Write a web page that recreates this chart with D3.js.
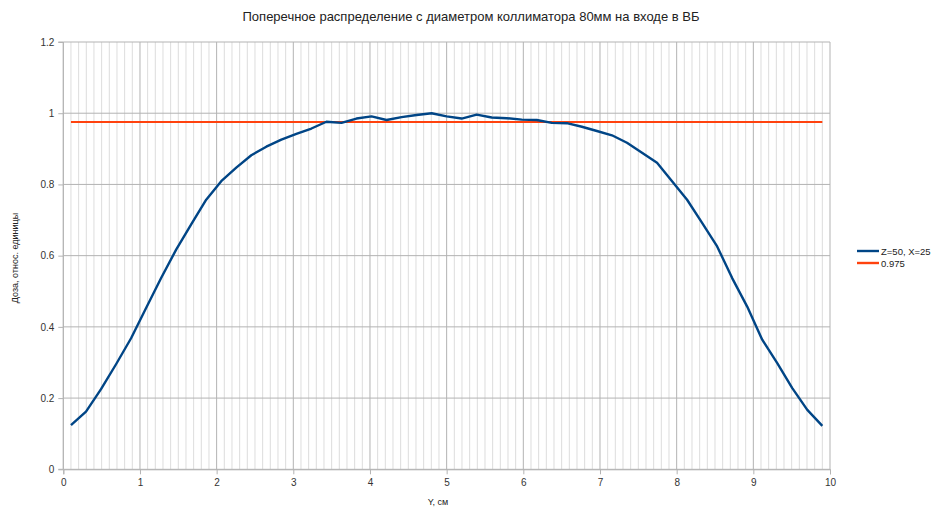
<!DOCTYPE html>
<html>
<head>
<meta charset="utf-8">
<script src="https://cdn.jsdelivr.net/npm/d3@7"></script>
<style>
  html, body { margin: 0; padding: 0; background: #fff; }
  svg { display: block; font-family: "Liberation Sans", Arial, sans-serif; }
</style>
</head>
<body>
<svg id="chart" width="936" height="507"></svg>
<script>
// Transverse dose profile, Y position (cm)
const positions = [0.1, 0.296, 0.492, 0.688, 0.884, 1.08, 1.276, 1.472, 1.668, 1.864,
  2.06, 2.256, 2.452, 2.648, 2.844, 3.04, 3.236, 3.432, 3.628, 3.824,
  4.02, 4.216, 4.412, 4.608, 4.804, 5.0, 5.196, 5.392, 5.588, 5.784,
  5.98, 6.176, 6.372, 6.568, 6.764, 6.96, 7.156, 7.352, 7.548, 7.744,
  7.94, 8.136, 8.332, 8.528, 8.724, 8.92, 9.116, 9.312, 9.508, 9.704, 9.9];

// Relative dose at Z=50, X=25
const dose = [0.124, 0.162, 0.225, 0.295, 0.368, 0.453, 0.537, 0.617, 0.688, 0.757,
  0.809, 0.847, 0.882, 0.906, 0.926, 0.942, 0.957, 0.976, 0.973, 0.985,
  0.991, 0.981, 0.989, 0.995, 1.000, 0.991, 0.985, 0.996, 0.988, 0.986,
  0.982, 0.981, 0.973, 0.972, 0.962, 0.950, 0.938, 0.917, 0.889, 0.861,
  0.809, 0.757, 0.692, 0.626, 0.537, 0.457, 0.364, 0.298, 0.228, 0.167, 0.122];

// Reference level
const refLevel = 0.975;
const refRange = [0.1, 9.9];

const seriesNames = ["Z=50, X=25", "0.975"];
const seriesColors = ["#004586", "#ff420e"];

const xTicks = [0, 1, 2, 3, 4, 5, 6, 7, 8, 9, 10];
const yTicks = [0, 0.2, 0.4, 0.6, 0.8, 1, 1.2];

const titleText = "Поперечное распределение с диаметром коллиматора 80мм на входе в ВБ";
const xTitle = "Y, см";
const yTitle = "Доза, относ. единицы";

const svg = d3.select("#chart");
const plot = { left: 63.3, right: 830, top: 42, bottom: 469.3 };

const x = d3.scaleLinear().domain([0, 10]).range([plot.left, plot.right]);
const y = d3.scaleLinear().domain([0, 1.2]).range([plot.bottom, plot.top]);

// Minor vertical grid (every 0.1)
const minor = d3.range(0, 101).map(i => i / 10).filter(v => Math.abs(v - Math.round(v)) > 1e-9);
svg.append("g")
  .selectAll("line").data(minor).join("line")
  .attr("x1", d => x(d)).attr("x2", d => x(d))
  .attr("y1", plot.top).attr("y2", plot.bottom)
  .attr("stroke", "#dddddd").attr("stroke-width", 1);

// Major vertical grid
svg.append("g")
  .selectAll("line").data(xTicks).join("line")
  .attr("x1", d => x(d)).attr("x2", d => x(d))
  .attr("y1", plot.top).attr("y2", plot.bottom)
  .attr("stroke", "#b3b3b3").attr("stroke-width", 1);

// Major horizontal grid
svg.append("g")
  .selectAll("line").data(yTicks).join("line")
  .attr("x1", plot.left).attr("x2", plot.right)
  .attr("y1", d => y(d)).attr("y2", d => y(d))
  .attr("stroke", "#b3b3b3").attr("stroke-width", 1);

// Axes
const xAxis = d3.axisBottom(x).tickValues(xTicks).tickFormat(d3.format("d")).tickSize(5).tickPadding(5);
const yAxis = d3.axisLeft(y).tickValues(yTicks).tickFormat(d => d3.format("")(d)).tickSize(5).tickPadding(4);

const gx = svg.append("g").attr("transform", `translate(0,${plot.bottom})`).call(xAxis);
const gy = svg.append("g").attr("transform", `translate(${plot.left},0)`).call(yAxis);
[gx, gy].forEach(g => {
  g.select(".domain").attr("stroke", "#b3b3b3");
  g.selectAll(".tick line").attr("stroke", "#b3b3b3");
  g.selectAll(".tick text").attr("fill", "#333").style("font-size", "10px")
    .style("font-family", "'Liberation Sans', Arial, sans-serif");
});
gy.select(".domain").attr("d", `M-5,${plot.top}H0V${plot.bottom}H-5`);

// Reference line
svg.append("line")
  .attr("x1", x(refRange[0])).attr("x2", x(refRange[1]))
  .attr("y1", y(refLevel)).attr("y2", y(refLevel))
  .attr("stroke", seriesColors[1]).attr("stroke-width", 2);

// Dose profile
const line = d3.line().x((d, i) => x(positions[i])).y(d => y(d));
svg.append("path")
  .datum(dose)
  .attr("d", line)
  .attr("fill", "none")
  .attr("stroke", seriesColors[0])
  .attr("stroke-width", 2.4)
  .attr("stroke-linejoin", "round");

// Title
svg.append("text")
  .attr("x", 471).attr("y", 21)
  .attr("text-anchor", "middle")
  .attr("fill", "#222")
  .style("font-size", "13px")
  .text(titleText);

// Axis titles
svg.append("text")
  .attr("x", 438).attr("y", 505)
  .attr("text-anchor", "middle")
  .attr("fill", "#222")
  .style("font-size", "9px")
  .text(xTitle);

svg.append("text")
  .attr("transform", "translate(18,258) rotate(-90)")
  .attr("text-anchor", "middle")
  .attr("fill", "#222")
  .style("font-size", "9px")
  .text(yTitle);

// Legend
const legend = svg.append("g").attr("transform", "translate(857,251)");
seriesNames.forEach((name, i) => {
  const g = legend.append("g").attr("transform", `translate(0,${i * 12})`);
  g.append("line").attr("x1", 0).attr("x2", 22).attr("y1", 0).attr("y2", 0)
    .attr("stroke", seriesColors[i]).attr("stroke-width", 2.4);
  g.append("text").attr("x", 24).attr("y", 3.5)
    .attr("fill", "#222").style("font-size", "9.5px").text(name);
});
</script>
</body>
</html>
